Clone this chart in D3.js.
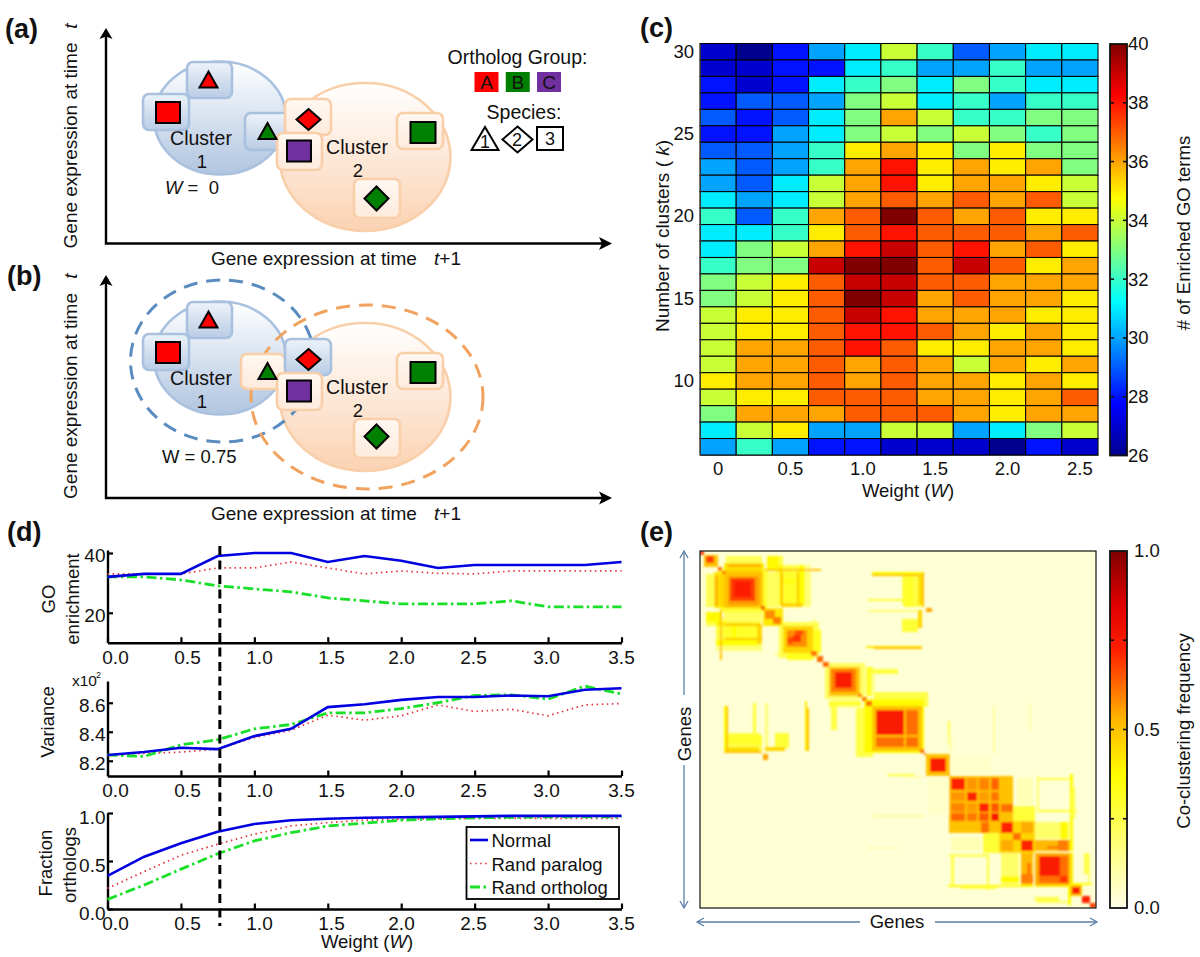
<!DOCTYPE html>
<html><head><meta charset="utf-8">
<script src="https://cdn.jsdelivr.net/npm/d3@7"></script>
<style>
html,body{margin:0;padding:0;background:#fff}
svg{display:block}
text{font-family:"Liberation Sans",Arial,sans-serif;fill:#111}
</style></head><body><svg id="fig" width="1200" height="957"></svg>
<script>
// ---------- panel (c) data ----------
const clusterCounts = [30,29,28,27,26,25,24,23,22,21,20,19,18,17,16,15,14,13,12,11,10,9,8,7,6];
const weightsC = [0,0.25,0.5,0.75,1,1.25,1.5,1.75,2,2.25,2.5];
const enrichedGO = [
[27,26,28,30,31,34,32,29,30,31,31],
[27,27,28,28,31,32,30,30,32,30,30],
[28,27,28,31,32,33,31,33,32,31,31],
[28,29,29,30,33,34,31,32,30,32,32],
[29,28,29,31,33,36,34,32,32,33,33],
[28,28,30,31,33,34,33,34,33,32,33],
[29,29,30,32,35,36,35,33,35,33,33],
[30,29,30,32,36,38,35,36,35,36,33],
[30,29,31,34,36,38,35,36,36,35,34],
[31,30,31,34,36,37,36,37,36,37,34],
[32,29,32,36,37,40,37,36,37,35,35],
[31,31,32,35,37,38,37,37,37,36,37],
[31,33,34,36,38,39,37,38,36,37,35],
[32,33,33,39,40,40,37,39,37,35,36],
[33,34,35,37,39,39,37,37,36,36,36],
[33,34,35,37,40,39,36,37,36,36,35],
[34,35,35,37,39,38,36,36,36,35,35],
[34,35,35,37,38,38,37,36,35,36,35],
[34,36,36,37,38,37,35,35,36,36,35],
[34,36,36,37,36,37,36,34,36,35,36],
[35,36,36,37,36,37,36,36,35,36,35],
[34,35,35,37,37,37,36,36,35,36,37],
[33,36,36,36,37,37,37,36,35,36,36],
[31,34,35,30,30,34,34,30,31,33,34],
[30,32,30,28,28,27,27,27,26,28,27]];
const kTicks = [30,25,20,15,10];
const wTicksC = [0,0.5,1,1.5,2,2.5];
const goBarTicks = [26,28,30,32,34,36,38,40];

// ---------- panel (d) data ----------
const weightsD = [0,0.25,0.5,0.75,1,1.25,1.5,1.75,2,2.25,2.5,2.75,3,3.25,3.5];
const goNormal  = [32,33,33,39,40,40,37,39,37.4,35,36,36,36,36,37];
const goParalog = [33,33,33,35,35,37,35,33,34,33.2,33,34,34,34,34];
const goOrtholog= [32,32,31,29,28,27,25,24,23,23,23,24,22,22,22];
const varNormal  = [8.24,8.26,8.29,8.28,8.37,8.42,8.57,8.59,8.62,8.64,8.64,8.65,8.645,8.69,8.70];
const varParalog = [8.24,8.25,8.26,8.28,8.36,8.41,8.515,8.48,8.51,8.585,8.54,8.555,8.51,8.585,8.595];
const varOrtholog= [8.24,8.23,8.31,8.345,8.42,8.45,8.53,8.53,8.56,8.60,8.65,8.655,8.625,8.715,8.66];
const fracNormal  = [0.345,0.545,0.685,0.805,0.885,0.925,0.94,0.95,0.955,0.96,0.965,0.97,0.97,0.97,0.97];
const fracParalog = [0.215,0.39,0.56,0.675,0.78,0.865,0.90,0.925,0.935,0.94,0.945,0.945,0.945,0.945,0.945];
const fracOrtholog= [0.10,0.25,0.415,0.575,0.71,0.795,0.865,0.895,0.925,0.94,0.95,0.955,0.96,0.96,0.96];
const legendNames = ["Normal","Rand paralog","Rand ortholog"];
const xTicksD = [0,0.5,1,1.5,2,2.5,3,3.5];
const chosenWeight = 0.765;

// ---------- panel (e) data: blocks of co-clustered genes [from,to,from,to,frequency] ----------
const geneCount = 200;
const coBackground = 0.03;
const coDiagonalBlocks = [
[0,2,0,2,.7],[2,9,2,9,.5],[3,7,3,7,.68],[9,11,9,11,.62],[11,13,11,13,.62],
[10,34,10,34,.3],[12,32,12,32,.5],[14,30,14,30,.56],[15,28,15,28,.68],[17,26,17,26,.73],
[31,33,31,33,.65],[32,42,32,42,.42],[33,38,33,38,.58],[37,41,37,41,.6],
[40,60,40,60,.25],[42,57,42,57,.46],[44,54,44,54,.58],[47,51,47,51,.7],[44,47,48,52,.66],
[56,59,56,59,.62],[59,62,59,62,.63],[62,65,62,65,.63],
[63,83,63,83,.22],[65,81,65,81,.5],[66,79,66,79,.6],[68,77,68,77,.74],
[80,82,80,82,.62],[82,84,82,84,.62],[84,87,84,87,.62],
[83,113,83,113,.38],[87,112,87,112,.5],[89,103,89,103,.74],[104,110,104,110,.62],[89,103,104,110,.62],
[111,113,111,113,.62],[113,114,113,114,.62],
[114,126,114,126,.5],[116,124,116,124,.74],
[126,152,126,152,.5],[127,134,127,134,.72],[135,140,135,140,.72],[141,146,141,146,.72],[147,151,147,151,.75],
[127,134,135,140,.57],[127,134,141,146,.59],[127,134,147,151,.63],[135,140,141,146,.56],[135,140,147,151,.61],[141,146,147,151,.65],
[151,169,151,169,.46],[152,158,152,158,.72],[158,162,158,162,.62],[162,168,162,168,.72],[152,158,162,168,.54],
[169,187,169,187,.54],[171,182,171,182,.74],[171,182,182,186,.62],[182,186,182,186,.7],
[187,193,187,193,.5],[188,192,188,192,.74],[193,197,193,197,.72],[197,200,197,200,.68]];
const coLinkBlocks = [
[7,13,12,32,.42],[8,9,14,31,.55],[11,12,14,30,.46],[3,12,13,31,.24],[10,11,13,31,.46],[7,8,13,31,.46],
[3,8,34,42,.26],[8,30,38,56,.16],[8,30,40,42,.4],[8,30,50,53,.36],[8,13,38,50,.26],[8,30,45,46,.3],
[3,10,34,40,.38],[12,31,34,40,.22],[12,31,41,50,.3],[12,31,41,42,.5],[12,31,49,50,.5],[12,31,50,56,.18],
[10,11,33,61,.5],[29,31,41,52,.46],[44,57,57,61,.32],[38,50,57,58,.18],[16,18,41,50,.36],
[13,14,87,113,.5],[13,30,102,112,.26],[13,30,110,112,.44],[27,28,85,112,.28],[38,42,102,112,.28],
[33,43,110,112,.46],[54,55,88,112,.5],[33,34,85,112,.18],[12,31,103,108,.3],[12,31,112,113,.5],
[12,13,87,112,.36],[53,54,84,112,.42],[38,45,102,110,.28],[29,31,103,112,.26],
[65,81,84,87,.3],[66,69,84,100,.26],[79,87,88,115,.26],[66,80,83,88,.13],[32,34,114,117,.55],
[95,108,125,126,.26],[87,113,148,149,.12],[85,100,166,167,.09],[103,112,126,127,.1],
[126,152,152,158,.5],[142,146,152,158,.62],[143,151,158,169,.28],[127,142,160,168,.08],[143,149,161,167,.2],
[162,168,169,187,.52],[165,167,175,186,.6],[162,168,181,186,.6],[152,161,169,187,.2],[152,161,182,186,.38],
[125,168,187,188,.38],[169,186,187,188,.42],[127,128,170,188,.25],[145,146,170,190,.28],[126,145,170,171,.2],
[132,150,188,189,.25],[169,181,194,196,.26],[170,187,196,197,.22],[187,198,186,187,.36],[115,125,127,147,.05]];
const coBarTicks = [0,0.5,1];
const coBarMinorTicks = [0.25,0.75];

// ---------- panels (a), (b) labels ----------
const orthologGroups = ["A","B","C"];
const orthologColors = ["#ff0000","#008000","#7030a0"];
const speciesIds = ["1","2","3"];

// ---------- palettes ----------
const jetStops = ["#00008f","#0000ff","#00ffff","#ffff00","#ff0000","#800000"];
const jetPositions = [0,0.125,0.375,0.625,0.875,1];
const hotStops = ["#ffffe8","#ffff00","#ffb400","#ff2000","#e00000","#800000"];
const hotPositions = [0,0.37,0.53,0.72,0.85,1];

const svg = d3.select("#fig");
const defs = svg.append("defs");
const FS = 18.5;

function linGrad(id, a, b){
  const g = defs.append("linearGradient").attr("id",id).attr("x1",0).attr("x2",0).attr("y1",0).attr("y2",1);
  g.append("stop").attr("offset",0).attr("stop-color",a);
  g.append("stop").attr("offset",1).attr("stop-color",b);
}
linGrad("cBlue","#ffffff","#b0c5e0");
linGrad("cOrange","#ffffff","#fbd2b2");
linGrad("tBlue","#eef3f9","#b9cce5");
linGrad("tOrange","#fff8f2","#fdeadb");

function label(sel,x,y,str,opts={}){
  const t = sel.append("text").attr("x",x).attr("y",y).attr("font-size",opts.size||FS)
    .attr("text-anchor",opts.anchor||"middle").attr("dominant-baseline","central");
  if(opts.weight) t.attr("font-weight",opts.weight);
  if(opts.rotate) t.attr("transform",`rotate(${opts.rotate},${x},${y})`);
  (Array.isArray(str)?str:[[str,false]]).forEach(([s,it])=>{
    t.append("tspan").attr("font-style",it?"italic":"normal").text(s);
  });
  return t;
}

// panel letters
[["(a)",5,29],["(b)",7,276],["(c)",640,28],["(d)",7,532],["(e)",640,532]].forEach(([s,x,y])=>
  label(svg,x,y,s,{anchor:"start",size:27,weight:"bold"}));

// ---------- schematic panels ----------
function arrowAxes(g, top, bottom){
  const x0=106, tipX=612;
  g.append("path").attr("d",`M${x0},${top+6}V${bottom}H${tipX-6}`).attr("fill","none").attr("stroke","#000").attr("stroke-width",2.4);
  g.append("path").attr("d",`M${x0},${top}l6.5,11l-6.5,-2.5l-6.5,2.5z`).attr("fill","#000");
  g.append("path").attr("d",`M${tipX},${bottom}l-13,-6.5l3,6.5l-3,6.5z`).attr("fill","#000");
}
function marker(g, type, cx, cy, w, h, fill, sw=2){
  const pts = type==="square" ? [[-w/2,-h/2],[w/2,-h/2],[w/2,h/2],[-w/2,h/2]]
    : type==="diamond" ? [[0,-h/2],[w/2,0],[0,h/2],[-w/2,0]]
    : [[0,-h/2],[w/2,h/2],[-w/2,h/2]];
  g.append("polygon").attr("points",pts.map(p=>[cx+p[0],cy+p[1]].join(",")).join(" "))
    .attr("fill",fill).attr("stroke","#000").attr("stroke-width",sw).attr("stroke-linejoin","miter");
}
function tile(g,x0,y0,x1,y1,kind){
  g.append("rect").attr("x",x0).attr("y",y0).attr("width",x1-x0).attr("height",y1-y0).attr("rx",6)
    .attr("fill",kind==="blue"?"url(#tBlue)":"url(#tOrange)")
    .attr("stroke",kind==="blue"?"#a9c1de":"#f9cfa9").attr("stroke-width",2.6);
}
function cluster(g,cx,cy,rx,ry,kind){
  g.append("ellipse").attr("cx",cx).attr("cy",cy).attr("rx",rx).attr("ry",ry)
   .attr("fill",kind==="blue"?"url(#cBlue)":"url(#cOrange)")
   .attr("stroke",kind==="blue"?"#a9c1de":"#f9cfa9").attr("stroke-width",2.6);
}
function schematic(dy, panel){
  const g = svg.append("g");
  const b = panel==="b";
  arrowAxes(g, b?275:28, b?498:243.5);
  label(g,70,b?396:145.5,"Gene expression at time",{rotate:-90,size:19});
  label(g,70,b?276:26,[["t",true]],{rotate:-90,size:19});
  label(g,211,b?513:258,"Gene expression at time",{anchor:"start",size:19});
  label(g,434,b?513:258,[["t",true],["+1",false]],{anchor:"start",size:19});
  cluster(g,220,118+dy,66,56.5,"blue");
  cluster(g,365,157+dy,85.5,74,"orange");
  if(b){
    g.append("ellipse").attr("cx",222.5).attr("cy",361).attr("rx",92).attr("ry",81)
     .attr("fill","none").attr("stroke","#5b8cc0").attr("stroke-width",3).attr("stroke-dasharray","14 9");
    g.append("ellipse").attr("cx",367).attr("cy",397).attr("rx",116).attr("ry",92)
     .attr("fill","none").attr("stroke","#f0a25e").attr("stroke-width",3).attr("stroke-dasharray","14 9");
  }
  label(g,201,138+dy,"Cluster",{size:19.5});
  label(g,202,161+dy,"1",{size:18.5});
  label(g,357,147+dy,"Cluster",{size:19.5});
  label(g,358,170+dy,"2",{size:18.5});
  tile(g,187,62+dy,232,98+dy,"blue");
  tile(g,143,94+dy,189,130+dy,"blue");
  if(b){ tile(g,241,114+dy,285,149+dy,"orange"); }
  else { tile(g,245,113+dy,290,150+dy,"blue"); }
  tile(g,285,99+dy,331,135+dy,b?"blue":"orange");
  tile(g,277,133+dy,322,170+dy,"orange");
  tile(g,397,113+dy,443,149+dy,"orange");
  tile(g,354,179+dy,400,218+dy,"orange");
  marker(g,"triangle",208.5,79.5+dy,18,16,orthologColors[0]);
  marker(g,"square",168,112.5+dy,24,21,orthologColors[0]);
  marker(g,"triangle",267.5,131+dy,18,16,orthologColors[1]);
  marker(g,"diamond",308.5,119.5+dy,24,21,orthologColors[0]);
  marker(g,"square",299,151+dy,24,21,orthologColors[2]);
  marker(g,"square",423,132.5+dy,25,21,orthologColors[1]);
  marker(g,"diamond",376.5,198.5+(b?-2:0)+dy,24,24,orthologColors[1]);
  return g;
}
const gA = schematic(0,"a");
label(gA,165,187,[["W",true],[" =\u00a0\u00a00",false]],{anchor:"start",size:18.5});
const gB = schematic(240,"b");
label(gB,162,455.5,"W = 0.75",{anchor:"start",size:18.5});

// ortholog / species key
const keyX = d3.scalePoint().domain(orthologGroups).range([486.5,549]);
label(svg,517.5,57,"Ortholog Group:",{size:19.5});
orthologGroups.forEach((s,i)=>{
  svg.append("rect").attr("x",keyX(s)-12).attr("y",72).attr("width",24).attr("height",20).attr("fill",orthologColors[i]);
  label(svg,keyX(s),82,s,{size:19});
});
label(svg,524,112,"Species:",{size:19.5});
marker(svg,"triangle",485,138.5,27,23,"#fff");
marker(svg,"diamond",517.5,139.5,30,26,"#fff");
marker(svg,"square",550,138.5,26,23,"#fff");
speciesIds.forEach((s,i)=>label(svg,[485,517,550][i],[142,139.5,138.5][i],s,{size:18}));

// ---------- panel (c) heatmap ----------
const jet = t => d3.scaleLinear().domain(jetPositions).range(jetStops).clamp(true)(t);
const goColor = d3.scaleSequential(jet).domain([26,40]);
const cX = d3.scaleBand().domain(weightsC).range([700,1098]);
const cY = d3.scaleBand().domain(clusterCounts).range([43.5,455]);
const gC = svg.append("g");
gC.selectAll("g.row").data(enrichedGO).join("g").attr("class","row")
  .each(function(row,ri){
    d3.select(this).selectAll("rect").data(row).join("rect")
      .attr("x",(d,i)=>cX(weightsC[i])).attr("y",cY(clusterCounts[ri]))
      .attr("width",cX.bandwidth()).attr("height",cY.bandwidth())
      .attr("fill",d=>goColor(d)).attr("stroke","#000").attr("stroke-width",1.05);
  });
const cLeft = gC.append("g").attr("transform","translate(700,0)")
  .call(d3.axisLeft(cY).tickValues(kTicks).tickSize(0).tickPadding(6));
cLeft.select(".domain").attr("stroke","#333");
const cBottom = gC.append("g").attr("transform","translate(0,455)")
  .call(d3.axisBottom(cX).tickValues(wTicksC).tickSize(0).tickPadding(7).tickFormat(d=>d===0?"0":d3.format(".1f")(d)));
cBottom.select(".domain").attr("stroke","#333");
[cLeft,cBottom].forEach(s=>s.selectAll("text").attr("font-size",FS).attr("font-family",null));
label(gC,662,236,[["Number of clusters (\u00a0",false],["k",true],[")",false]],{rotate:-90,size:19});
label(gC,908,490,[["Weight (",false],["W",true],[")",false]]);

function colorbar(id, colorFn, domain, y0, y1, ticks, minor, fmt, title, titleY, labelX){
  const yS = d3.scaleLinear().domain(domain).range([y1,y0]);
  const grad = defs.append("linearGradient").attr("id",id).attr("x1",0).attr("x2",0).attr("y1",1).attr("y2",0);
  yS.ticks(60).forEach(v=>grad.append("stop").attr("offset",(v-domain[0])/(domain[1]-domain[0])).attr("stop-color",colorFn(v)));
  const g = svg.append("g");
  g.append("rect").attr("x",1110).attr("y",y0).attr("width",17).attr("height",y1-y0)
    .attr("fill",`url(#${id})`).attr("stroke","#111").attr("stroke-width",1.8);
  const axis = g.append("g").attr("transform","translate(1127,0)")
    .call(d3.axisRight(yS).tickValues(ticks).tickSize(0).tickPadding(labelX).tickFormat(fmt));
  axis.select(".domain").remove();
  axis.selectAll("text").attr("font-size",FS);
  ticks.concat(minor).forEach(v=>{
    if(v===domain[0]||v===domain[1]) return;
    [[1110,1114],[1123,1127]].forEach(([a,b])=>g.append("line").attr("x1",a).attr("x2",b).attr("y1",yS(v)).attr("y2",yS(v)).attr("stroke","#111").attr("stroke-width",1.6));
  });
  label(g,1183,titleY,title,{rotate:-90});
}
colorbar("barGO",goColor,[26,40],44,455.5,goBarTicks,[],d3.format("d"),"# of Enriched GO terms",233,1);

// ---------- panel (d) lines ----------
const dX = d3.scaleLinear().domain([0,3.5]).range([107.5,621.5]);
const dTickLabelX = d3.scaleLinear().domain(xTicksD).range([115,187,259,331,401,473,546,621]);
const seriesStyle = [
  {stroke:"#0000e0",width:2.6,dash:null},
  {stroke:"#e8303a",width:1.7,dash:"1.5 3.6"},
  {stroke:"#18e028",width:2.8,dash:"10 3.5 2.5 3.5"}];
const xFmt = d3.format(".1f");
function linePanel(cfg){
  const g = svg.append("g");
  const y = d3.scaleLinear().domain(cfg.domain).range(cfg.range);
  const bottom = cfg.range[0];
  const ax = g.append("g").attr("transform",`translate(0,${bottom})`)
    .call(d3.axisBottom(dX).tickValues(xTicksD).tickSize(-5.5).tickSizeOuter(0).tickPadding(8).tickFormat(xFmt));
  ax.selectAll("text").attr("x",d=>dTickLabelX(d)-dX(d));
  const ay = g.append("g").attr("transform",`translate(${dX(0)},0)`)
    .call(d3.axisLeft(y).tickValues(cfg.ticks).tickSize(-5.5).tickSizeOuter(0).tickPadding(2).tickFormat(d3.format(cfg.fmt)));
  [ax,ay].forEach(a=>{
    a.select(".domain").attr("stroke","#000").attr("stroke-width",2.4);
    a.selectAll("line").attr("stroke","#000").attr("stroke-width",2.2);
    a.selectAll("text").attr("font-size",FS+0.5).attr("fill","#111");
  });
  ay.selectAll("text").attr("dy",cfg.dy||"0.45em");
  const line = d3.line().x((d,i)=>dX(weightsD[i])).y(d=>y(d));
  [cfg.series[1],cfg.series[2],cfg.series[0]].forEach((s,k)=>{
    const st = seriesStyle[[1,2,0][k]];
    g.append("path").attr("d",line(s)).attr("fill","none").attr("stroke",st.stroke)
      .attr("stroke-width",st.width).attr("stroke-dasharray",st.dash);
  });
  return g;
}
linePanel({domain:[10,41],range:[642.7,550],ticks:[20,40],fmt:"d",series:[goNormal,goParalog,goOrtholog]});
linePanel({domain:[8.095,8.75],range:[776,681],ticks:[8.2,8.4,8.6],fmt:".1f",series:[varNormal,varParalog,varOrtholog]});
linePanel({domain:[0,1],range:[909,813],ticks:[0,0.5,1],fmt:".1f",dy:"0.55em",series:[fracNormal,fracParalog,fracOrtholog]});
label(svg,48,599,"GO",{rotate:-90});
label(svg,72,599,"enrichment",{rotate:-90});
label(svg,47,722,"Variance",{rotate:-90});
label(svg,45,863,"Fraction",{rotate:-90});
label(svg,68.5,865,"orthologs",{rotate:-90});
label(svg,72,680,"x10",{anchor:"start",size:15.5});
label(svg,96,675,"2",{anchor:"start",size:9});
label(svg,367,941,[["Weight (",false],["W",true],[")",false]]);
svg.append("line").attr("x1",dX(chosenWeight)).attr("x2",dX(chosenWeight)).attr("y1",546).attr("y2",926)
  .attr("stroke","#000").attr("stroke-width",3).attr("stroke-dasharray","9 5.5");
// legend
const lg = svg.append("g");
lg.append("rect").attr("x",466.5).attr("y",827).attr("width",152.5).attr("height",72).attr("fill","#fff").attr("stroke","#000").attr("stroke-width",1.8);
const legendY = d3.scalePoint().domain(legendNames).range([840,887]);
legendNames.forEach((n,i)=>{
  const st = seriesStyle[i];
  lg.append("line").attr("x1",470).attr("x2",488).attr("y1",legendY(n)).attr("y2",legendY(n))
    .attr("stroke",st.stroke).attr("stroke-width",st.width).attr("stroke-dasharray",st.dash);
  label(lg,491.5,legendY(n),n,{anchor:"start"});
});

// ---------- panel (e) matrix ----------
const genes = d3.range(geneCount);
const coMatrix = genes.map(()=>genes.map(()=>coBackground));
coDiagonalBlocks.concat(coLinkBlocks).forEach(([a0,a1,b0,b1,v])=>{
  for(let a=a0;a<a1;a++) for(let b=b0;b<b1;b++){
    if(a<geneCount&&b<geneCount){
      coMatrix[a][b]=Math.max(coMatrix[a][b],v);
      coMatrix[b][a]=Math.max(coMatrix[b][a],v);
    }
  }
});
const hot = d3.scaleLinear().domain(hotPositions).range(hotStops).clamp(true);
const eX = d3.scaleBand().domain(genes).range([700,1096]);
const eY = d3.scaleBand().domain(genes).range([551,908]);
const blur = defs.append("filter").attr("id","soft").attr("filterUnits","userSpaceOnUse")
  .attr("x",700).attr("y",551).attr("width",396).attr("height",357);
blur.append("feGaussianBlur").attr("stdDeviation",1.3);
const gE = svg.append("g");
gE.append("rect").attr("x",700).attr("y",551).attr("width",396).attr("height",357).attr("fill",hot(coBackground));
const cells = [];
coMatrix.forEach((row,r)=>row.forEach((v,c)=>{ if(v>coBackground) cells.push({r,c,v}); }));
gE.append("g").attr("filter","url(#soft)").attr("shape-rendering","crispEdges")
  .selectAll("rect").data(cells).join("rect")
  .attr("x",d=>eX(d.c)).attr("y",d=>eY(d.r)).attr("width",eX.bandwidth()+0.3).attr("height",eY.bandwidth()+0.3)
  .attr("fill",d=>hot(d.v));
gE.append("rect").attr("x",700).attr("y",551).attr("width",396).attr("height",357).attr("fill","none").attr("stroke","#111").attr("stroke-width",1.2);
colorbar("barCo",hot,[0,1],551,908,coBarTicks,coBarMinorTicks,d3.format(".1f"),"Co-clustering frequency",731,7);

// gene arrows
function thinArrow(x0,y0,x1,y1,head){
  const col="#5b7fa6";
  svg.append("line").attr("x1",x0).attr("y1",y0).attr("x2",x1).attr("y2",y1).attr("stroke",col).attr("stroke-width",1.3);
  if(head){
    const dx=Math.sign(x1-x0), dy=Math.sign(y1-y0);
    const d = `M${x1-dx*7-dy*4},${y1-dy*7-dx*4}L${x1},${y1}L${x1-dx*7+dy*4},${y1-dy*7+dx*4}`;
    svg.append("path").attr("d",d).attr("fill","none").attr("stroke",col).attr("stroke-width",1.3);
  }
}
thinArrow(684,695,684,551,true);
thinArrow(684,765,684,908,true);
thinArrow(860,922,697,922,true);
thinArrow(935,922,1097,922,true);
label(svg,684,734,"Genes",{rotate:-90});
label(svg,897,921,"Genes");
</script></body></html>
